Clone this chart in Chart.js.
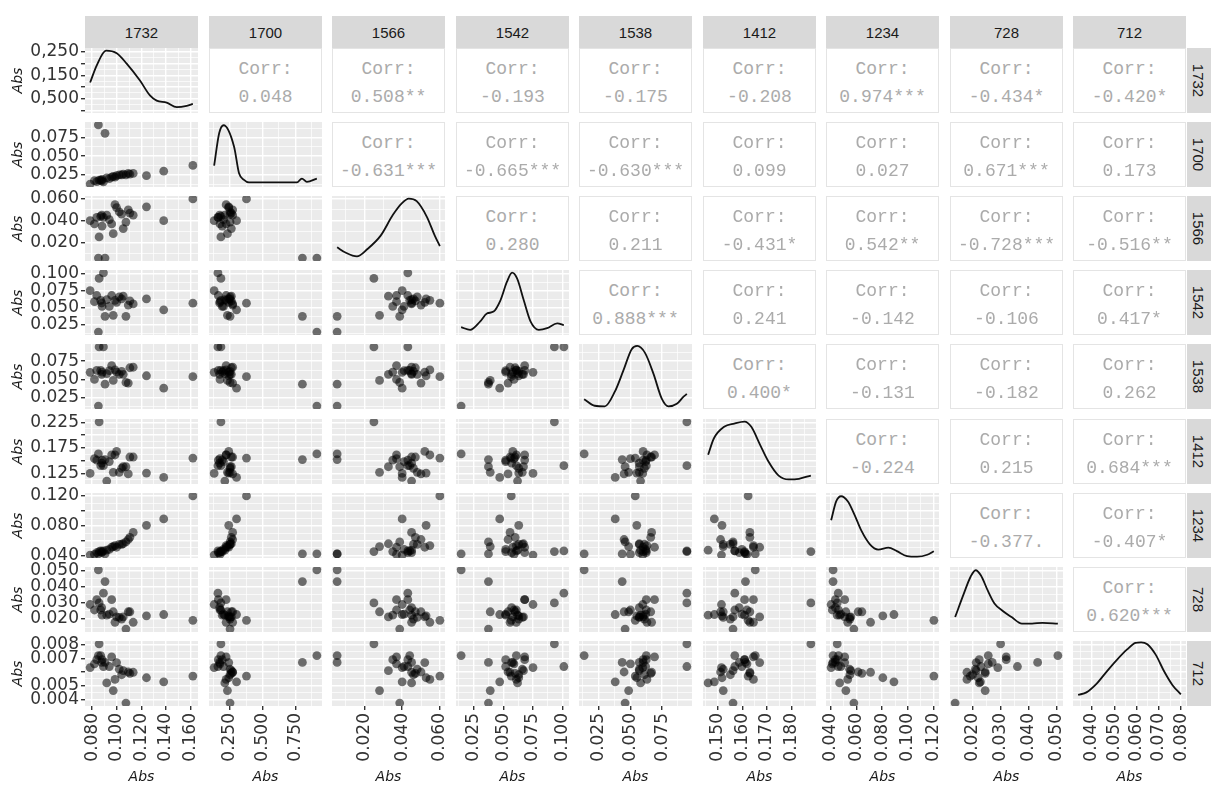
<!DOCTYPE html>
<html>
<head>
<meta charset="utf-8">
<script src="https://cdn.jsdelivr.net/npm/chart.js@4.4.1/dist/chart.umd.min.js"></script>
<style>
  body { margin: 0; width: 1211px; height: 787px; position: relative; overflow: hidden; background: #fff; font-family: 'Liberation Sans', Arial, sans-serif; }
  canvas { position: absolute; }
  .strip { position: absolute; background: #d9d9d9; color: #1a1a1a; font-size: 15px; display: flex; align-items: center; justify-content: center; }
  .strip.side span { transform: rotate(90deg); white-space: nowrap; }
  .corr { position: absolute; box-sizing: border-box; border: 1px solid #e4e4e4; background: #fff; font-family: 'Liberation Mono', 'DejaVu Sans Mono', monospace; font-size: 18px; color: #ababab; }
  .corr div { position: absolute; left: 0; right: 0; text-align: center; line-height: 20px; white-space: nowrap; }
</style>
</head>
<body>
<script>
const VARS = ['1732', '1700', '1566', '1542', '1538', '1412', '1234', '728', '712'];

// Abs per wavelength, one entry per sample (same order in every array)
const abs1732 = [0.0784, 0.0819, 0.0838, 0.0851, 0.0857, 0.0892, 0.0905, 0.0870, 0.0881, 0.0919, 0.0959, 0.0972, 0.0986,
                 0.0999, 0.1021, 0.1053, 0.1075, 0.1094, 0.1107, 0.1134, 0.1242, 0.1382, 0.1619, 0.0878, 0.0940, 0.1040];
const abs1700 = [0.0128, 0.0173, 0.0160, 0.0916, 0.0180, 0.0157, 0.0805, 0.0180, 0.0190, 0.0210, 0.0220, 0.0230, 0.0220,
                 0.0240, 0.0250, 0.0260, 0.0250, 0.0270, 0.0260, 0.0270, 0.0240, 0.0300, 0.0376, 0.0170, 0.0200, 0.0250];
const abs1566 = [0.0400, 0.0370, 0.0430, 0.0055, 0.0250, 0.0430, 0.0055, 0.0440, 0.0350, 0.0450, 0.0370, 0.0280, 0.0547,
                 0.0520, 0.0480, 0.0327, 0.0387, 0.0500, 0.0470, 0.0450, 0.0527, 0.0400, 0.0600, 0.0450, 0.0410, 0.0460];
const abs1542 = [0.0750, 0.0590, 0.0680, 0.0145, 0.0930, 0.1010, 0.0375, 0.0610, 0.0520, 0.0620, 0.0680, 0.0390, 0.0610,
                 0.0580, 0.0660, 0.0670, 0.0375, 0.0540, 0.0600, 0.0557, 0.0630, 0.0470, 0.0567, 0.0570, 0.0520, 0.0630];
const abs1538 = [0.0597, 0.0500, 0.0625, 0.0135, 0.0945, 0.0945, 0.0435, 0.0625, 0.0600, 0.0580, 0.0690, 0.0486, 0.0630,
                 0.0600, 0.0570, 0.0570, 0.0458, 0.0450, 0.0660, 0.0667, 0.0550, 0.0380, 0.0538, 0.0570, 0.0620, 0.0610];
const abs1412 = [0.1250, 0.1537, 0.1510, 0.1630, 0.2256, 0.1400, 0.1520, 0.1400, 0.1510, 0.1100, 0.1610, 0.1270, 0.1610,
                 0.1680, 0.1270, 0.1380, 0.1380, 0.1240, 0.1570, 0.1570, 0.1256, 0.1170, 0.1550, 0.1450, 0.1480, 0.1350];
const abs1234 = [0.0405, 0.0414, 0.0438, 0.0420, 0.0452, 0.0460, 0.0420, 0.0462, 0.0452, 0.0471, 0.0510, 0.0519, 0.0533,
                 0.0510, 0.0548, 0.0557, 0.0581, 0.0614, 0.0643, 0.0710, 0.0805, 0.0891, 0.1200, 0.0438, 0.0480, 0.0550];
const abs728  = [0.0290, 0.0256, 0.0320, 0.0504, 0.0300, 0.0360, 0.0432, 0.0256, 0.0224, 0.0224, 0.0320, 0.0245, 0.0180,
                 0.0213, 0.0210, 0.0213, 0.0138, 0.0245, 0.0245, 0.0180, 0.0220, 0.0228, 0.0192, 0.0270, 0.0230, 0.0200];
const abs712  = [0.00632, 0.00660, 0.00690, 0.00720, 0.00805, 0.00640, 0.00670, 0.00720, 0.00690, 0.00520, 0.00710, 0.00464, 0.00546,
                 0.00669, 0.00620, 0.00610, 0.00373, 0.00600, 0.00590, 0.00598, 0.00558, 0.00528, 0.00570, 0.00670, 0.00640, 0.00580];

// density curves on the diagonal (x in Abs, y as share of the panel height)
const dens1732X = [0.0784, 0.0837, 0.0913, 0.1000, 0.1081, 0.1189, 0.1270, 0.1325, 0.1406, 0.1488, 0.1569, 0.1619];
const dens1732Y = [0.47, 0.73, 0.96, 0.92, 0.76, 0.50, 0.27, 0.19, 0.16, 0.09, 0.11, 0.14];
const dens1700X = [0.0128, 0.0167, 0.0201, 0.0281, 0.0319, 0.0357, 0.0395, 0.0560, 0.0763, 0.0801, 0.0839, 0.0916];
const dens1700Y = [0.33, 0.83, 0.95, 0.62, 0.21, 0.11, 0.07, 0.07, 0.07, 0.13, 0.08, 0.13];
const dens1566X = [0.0055, 0.0099, 0.0160, 0.0214, 0.0286, 0.0351, 0.0399, 0.0435, 0.0477, 0.0531, 0.0573, 0.0600];
const dens1566Y = [0.21, 0.13, 0.07, 0.18, 0.39, 0.71, 0.89, 0.96, 0.92, 0.68, 0.39, 0.23];
const dens1542X = [0.0145, 0.0221, 0.0306, 0.0362, 0.0418, 0.0475, 0.0531, 0.0574, 0.0616, 0.0673, 0.0729, 0.0799, 0.0869, 0.0954, 0.1010];
const dens1542Y = [0.12, 0.08, 0.21, 0.33, 0.36, 0.53, 0.82, 0.96, 0.87, 0.53, 0.21, 0.08, 0.105, 0.18, 0.15];
const dens1538X = [0.0135, 0.0219, 0.0298, 0.0378, 0.0444, 0.0510, 0.0554, 0.0616, 0.0682, 0.0747, 0.0800, 0.0866, 0.0919, 0.0945];
const dens1538Y = [0.15, 0.05, 0.04, 0.27, 0.59, 0.92, 0.97, 0.86, 0.54, 0.16, 0.04, 0.08, 0.19, 0.23];
const dens1412X = [0.1100, 0.1164, 0.1280, 0.1394, 0.1509, 0.1586, 0.1682, 0.1777, 0.1893, 0.2007, 0.2122, 0.2256];
const dens1412Y = [0.45, 0.70, 0.88, 0.93, 0.96, 0.88, 0.61, 0.35, 0.13, 0.07, 0.08, 0.13];
const dens1234X = [0.0405, 0.0444, 0.0482, 0.0535, 0.0587, 0.0639, 0.0705, 0.0770, 0.0848, 0.0914, 0.0992, 0.1070, 0.1149, 0.1200];
const dens1234Y = [0.58, 0.87, 0.95, 0.87, 0.66, 0.42, 0.21, 0.13, 0.16, 0.105, 0.03, 0.02, 0.05, 0.105];
const dens728X  = [0.0138, 0.0169, 0.0193, 0.0211, 0.0230, 0.0254, 0.0278, 0.0309, 0.0339, 0.0376, 0.0412, 0.0449, 0.0504];
const dens728Y  = [0.23, 0.59, 0.85, 0.95, 0.87, 0.64, 0.44, 0.32, 0.23, 0.13, 0.13, 0.14, 0.13];
const dens712X  = [0.00373, 0.00408, 0.00450, 0.00493, 0.00536, 0.00579, 0.00614, 0.00638, 0.00664, 0.00699, 0.00735, 0.00770, 0.00805];
const dens712Y  = [0.17, 0.21, 0.34, 0.53, 0.71, 0.87, 0.97, 0.98, 0.95, 0.79, 0.53, 0.32, 0.18];

// tick positions (in Abs) and the labels printed at them
const xt1732 = [0.08, 0.10, 0.12, 0.14, 0.16],            xl1732 = ['0.080', '0.100', '0.120', '0.140', '0.160'];
const yt1732 = [0.0778, 0.0943, 0.1108, 0.1273, 0.1439, 0.1604], yl1732 = ['', '0,500', '', '0,150', '', '0,250'];
const xt1700 = [0.0248, 0.050, 0.075],                     xl1700 = ['0.250', '0.500', '0.750'];
const yt1700 = [0.025, 0.050, 0.075],                      yl1700 = ['0.025', '0.050', '0.075'];
const xt1566 = [0.02, 0.04, 0.06],                         xl1566 = ['0.020', '0.040', '0.060'];
const yt1566 = xt1566,                                     yl1566 = xl1566;
const xt1542 = [0.025, 0.050, 0.075, 0.100],               xl1542 = ['0.025', '0.050', '0.075', '0.100'];
const yt1542 = xt1542,                                     yl1542 = ['0.025', '0.050', '0,075', '0.100'];
const xt1538 = [0.025, 0.050, 0.075],                      xl1538 = ['0.025', '0.050', '0.075'];
const yt1538 = xt1538,                                     yl1538 = xl1538;
const xt1412 = [0.121, 0.149, 0.176, 0.204],               xl1412 = ['0.150', '0.160', '0.170', '0.180'];
const yt1412 = [0.125, 0.150, 0.175, 0.200, 0.225],        yl1412 = ['0.125', '', '0.175', '', '0.225'];
const xt1234 = [0.04, 0.06, 0.08, 0.10, 0.12],             xl1234 = ['0.040', '0.060', '0.080', '0.100', '0.120'];
const yt1234 = xt1234,                                     yl1234 = ['0.040', '', '0.080', '', '0.120'];
const xt728  = [0.02, 0.03, 0.04, 0.05],                   xl728  = ['0.020', '0.030', '0.040', '0.050'];
const yt728  = xt728,                                      yl728  = xl728;
const xt712  = [0.00431, 0.00528, 0.00620, 0.00713, 0.00806], xl712 = ['0.040', '0.050', '0.060', '0.070', '0.080'];
const yt712  = [0.004, 0.005, 0.006, 0.007, 0.008],        yl712  = ['0.004', '0.005', '', '0.007', '0.008'];

// upper triangle, row by row
const corr1732 = ['0.048', '0.508**', '-0.193', '-0.175', '-0.208', '0.974***', '-0.434*', '-0.420*'];
const corr1700 = ['-0.631***', '-0.665***', '-0.630***', '0.099', '0.027', '0.671***', '0.173'];
const corr1566 = ['0.280', '0.211', '-0.431*', '0.542**', '-0.728***', '-0.516**'];
const corr1542 = ['0.888***', '0.241', '-0.142', '-0.106', '0.417*'];
const corr1538 = ['0.400*', '-0.131', '-0.182', '0.262'];
const corr1412 = ['-0.224', '0.215', '0.684***'];
const corr1234 = ['-0.377.', '-0.407*'];
const corr728  = ['0.620***'];

const series = [abs1732, abs1700, abs1566, abs1542, abs1538, abs1412, abs1234, abs728, abs712];
const densX  = [dens1732X, dens1700X, dens1566X, dens1542X, dens1538X, dens1412X, dens1234X, dens728X, dens712X];
const densY  = [dens1732Y, dens1700Y, dens1566Y, dens1542Y, dens1538Y, dens1412Y, dens1234Y, dens728Y, dens712Y];
const xTicks = [[xt1732, xl1732], [xt1700, xl1700], [xt1566, xl1566], [xt1542, xl1542], [xt1538, xl1538],
                [xt1412, xl1412], [xt1234, xl1234], [xt728, xl728], [xt712, xl712]];
const yTicks = [[yt1732, yl1732], [yt1700, yl1700], [yt1566, yl1566], [yt1542, yl1542], [yt1538, yl1538],
                [yt1412, yl1412], [yt1234, yl1234], [yt728, yl728], [yt712, yl712]];
const corrRows = [corr1732, corr1700, corr1566, corr1542, corr1538, corr1412, corr1234, corr728];

// layout (px)
const N = VARS.length;
const PANEL_W = 113, PANEL_H = 65, X0 = 85, Y0 = 48, STEP_X = 123.5, STEP_Y = 74.1;
const AXIS_W = 85, AXIS_H = 81, MARGIN = 7;
const colLeft = c => Math.round(X0 + c * STEP_X);
const rowTop  = r => Math.round(Y0 + r * STEP_Y);

const LABEL_FONT = { family: "'DejaVu Sans', Verdana, sans-serif", size: 17 };
const TITLE_FONT = { family: "'DejaVu Sans', Verdana, sans-serif", size: 14, style: 'italic' };

// ggplot-like range: data range plus 5% on each side
const limits = series.map(a => {
    const lo = Math.min(...a), hi = Math.max(...a), pad = (hi - lo) * 0.05;
    return [lo - pad, hi + pad];
});

// major ticks plus minor grid lines halfway between them
function withMinor(vals, labels, lo, hi) {
    const out = vals.map((v, i) => ({ value: v, lbl: labels[i], minor: false }));
    for (let i = 0; i + 1 < vals.length; i++) {
        out.push({ value: (vals[i] + vals[i + 1]) / 2, lbl: '', minor: true });
    }
    const n = vals.length;
    const before = vals[0] - (vals[1] - vals[0]) / 2;
    const after  = vals[n - 1] + (vals[n - 1] - vals[n - 2]) / 2;
    if (before > lo) out.push({ value: before, lbl: '', minor: true });
    if (after < hi)  out.push({ value: after,  lbl: '', minor: true });
    return out.sort((a, b) => a.value - b.value);
}

function scale(lo, hi, ticks, side) {
    const show = side !== null;
    const horizontal = side === 'bottom' || side === 'x';
    return {
        type: 'linear',
        min: lo,
        max: hi,
        afterBuildTicks: s => { s.ticks = ticks.map(t => ({ value: t.value, lbl: t.lbl, minor: t.minor })); },
        afterFit: s => {
            if (show) {
                if (horizontal) s.height = AXIS_H; else s.width = AXIS_W;
            }
            s.paddingLeft = s.paddingRight = s.paddingTop = s.paddingBottom = 0;
        },
        ticks: {
            display: show,
            autoSkip: false,
            color: '#333333',
            font: LABEL_FONT,
            padding: horizontal ? 3 : 2,
            minRotation: horizontal ? 90 : 0,
            maxRotation: horizontal ? 90 : 0,
            callback: (v, i, ts) => ts[i].lbl,
        },
        grid: {
            color: '#ffffff',
            lineWidth: ctx => (ctx.tick && ctx.tick.minor ? 0.7 : 1.4),
            drawTicks: show,
            tickLength: 4,
            tickColor: ctx => (ctx.tick && ctx.tick.minor ? 'rgba(0,0,0,0)' : '#333333'),
        },
        border: { display: false },
        title: {
            display: show,
            text: 'Abs',
            color: '#1a1a1a',
            font: TITLE_FONT,
            padding: horizontal ? { top: 0, bottom: 1 } : { top: 10, bottom: 0 },
        },
    };
}

const panelBg = {
    id: 'panelBg',
    beforeDraw(chart) {
        const { ctx, chartArea: a } = chart;
        ctx.save();
        ctx.fillStyle = '#ebebeb';
        ctx.fillRect(a.left, a.top, a.right - a.left, a.bottom - a.top);
        ctx.restore();
    },
};

function addDiv(cls, left, top, w, h, html) {
    const d = document.createElement('div');
    d.className = cls;
    d.style.left = left + 'px';
    d.style.top = top + 'px';
    d.style.width = w + 'px';
    d.style.height = h + 'px';
    d.innerHTML = html;
    document.body.appendChild(d);
    return d;
}

// strips
VARS.forEach((name, i) => {
    addDiv('strip', colLeft(i), 16, PANEL_W, 32, name);
    addDiv('strip side', colLeft(N - 1) + PANEL_W + 1, rowTop(i), 24, PANEL_H, '<span>' + name + '</span>');
});

for (let r = 0; r < N; r++) {
    for (let c = 0; c < N; c++) {
        const left = colLeft(c), top = rowTop(r);

        if (c > r) {
            const box = addDiv('corr', left, top, PANEL_W, PANEL_H, '');
            box.innerHTML = '<div style="top:10px">Corr:</div><div style="top:38px">' + corrRows[r][c - r - 1] + '</div>';
            continue;
        }

        const hasLeft = c === 0, hasBottom = r === N - 1;
        const pad = { left: hasLeft ? 0 : MARGIN, right: MARGIN, top: MARGIN, bottom: hasBottom ? 0 : MARGIN };
        const cvLeft = left - (hasLeft ? AXIS_W : 0) - pad.left;
        const cvTop = top - pad.top;
        const cvW = pad.left + (hasLeft ? AXIS_W : 0) + PANEL_W + pad.right;
        const cvH = pad.top + PANEL_H + (hasBottom ? AXIS_H : 0) + pad.bottom;

        const cv = document.createElement('canvas');
        cv.width = cvW;
        cv.height = cvH;
        cv.style.left = cvLeft + 'px';
        cv.style.top = cvTop + 'px';
        cv.style.width = cvW + 'px';
        cv.style.height = cvH + 'px';
        document.body.appendChild(cv);

        const [xlo, xhi] = limits[c];
        const [ylo, yhi] = limits[r];
        const xGrid = withMinor(xTicks[c][0], xTicks[c][1], xlo, xhi);
        let yGrid = withMinor(yTicks[r][0], yTicks[r][1], ylo, yhi);
        let dataset, yMin = ylo, yMax = yhi;

        if (r === c) {
            // density: y axis is share of panel height, grid follows the row's Abs ticks
            yGrid = yGrid.map(t => ({ ...t, value: (t.value - ylo) / (yhi - ylo) }));
            yMin = 0;
            yMax = 1;
            dataset = {
                data: densX[c].map((x, i) => ({ x, y: densY[c][i] })),
                showLine: true,
                borderColor: '#111111',
                borderWidth: 1.8,
                pointRadius: 0,
                cubicInterpolationMode: 'monotone',
            };
        } else {
            dataset = {
                data: series[c].map((x, i) => ({ x, y: series[r][i] })),
                pointRadius: 4.4,
                pointBackgroundColor: 'rgba(0,0,0,0.55)',
                pointBorderWidth: 0,
            };
        }

        new Chart(cv.getContext('2d'), {
            type: 'scatter',
            data: { datasets: [dataset] },
            options: {
                responsive: false,
                animation: false,
                events: [],
                layout: { padding: pad },
                plugins: { legend: { display: false }, tooltip: { enabled: false } },
                scales: {
                    x: scale(xlo, xhi, xGrid, hasBottom ? 'bottom' : null),
                    y: scale(yMin, yMax, yGrid, hasLeft ? 'left' : null),
                },
            },
            plugins: [panelBg],
        });
    }
}
</script>
</body>
</html>
